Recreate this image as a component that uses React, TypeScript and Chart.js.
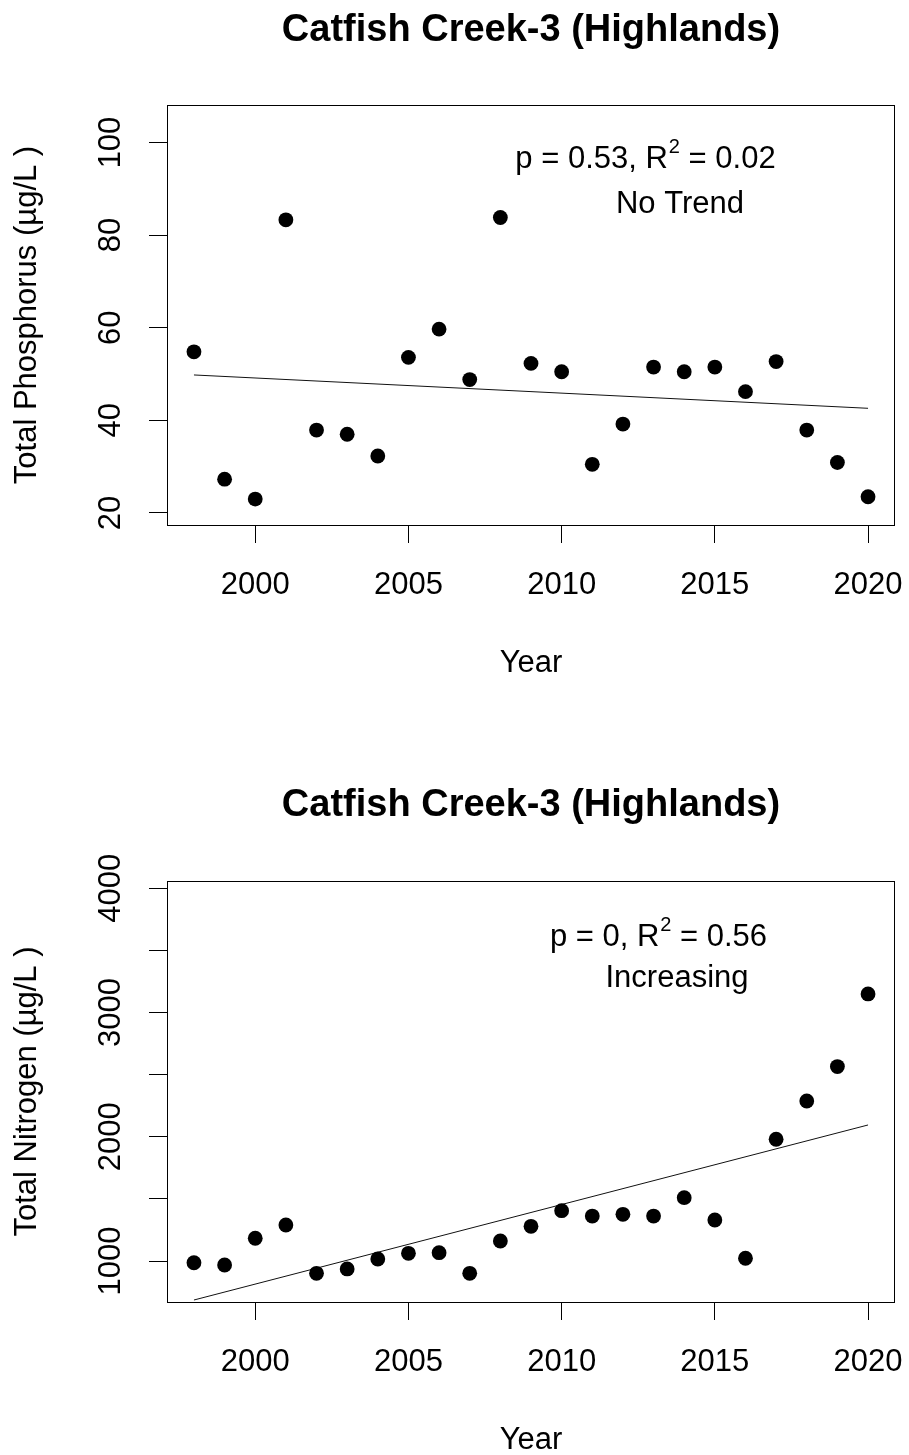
import React, { useEffect, useRef } from 'react';
import { Chart, registerables } from 'chart.js';

Chart.register(...registerables);

const FONT = '"Liberation Sans", Arial, Helvetica, sans-serif';

// ---- data ----
const years = [1998, 1999, 2000, 2001, 2002, 2003, 2004, 2005, 2006, 2007, 2008, 2009, 2010, 2011, 2012, 2013, 2014, 2015, 2016, 2017, 2018, 2019, 2020];
const phosphorus = [54.8, 27.3, 23.0, 83.3, 37.9, 37.0, 32.3, 53.6, 59.7, 48.8, 83.8, 52.3, 50.5, 30.5, 39.2, 51.5, 50.5, 51.5, 46.2, 52.7, 37.9, 30.9, 23.5];
const nitrogen = [986, 968, 1183, 1290, 901, 936, 1016, 1062, 1067, 901, 1161, 1279, 1405, 1362, 1376, 1362, 1510, 1330, 1022, 1980, 2288, 2565, 3150];
const trendYears = [1998, 2020];
const phosphorusTrend = [49.8, 42.6];
const nitrogenTrend = [686, 2095];
const yearTicks = [2000, 2005, 2010, 2015, 2020];
const phosphorusTicks = [20, 40, 60, 80, 100];
const phosphorusLabelTicks = [20, 40, 60, 80, 100];
const nitrogenTicks = [1000, 1500, 2000, 2500, 3000, 3500, 4000];
const nitrogenLabelTicks = [1000, 2000, 3000, 4000];

const TITLE = 'Catfish Creek-3 (Highlands)';

type Spec = {
  height: number;
  areaTop: number;
  areaBottom: number;
  values: number[];
  trend: number[];
  yMin: number;
  yMax: number;
  yTicks: number[];
  yLabelTicks: number[];
  yTitle: string;
  titleBase: number;
  stat: { pre: string; sup: string; post: string; cx: number; base: number };
  verdict: { text: string; cx: number; base: number };
};

const topSpec: Spec = {
  height: 776,
  areaTop: 105,
  areaBottom: 525,
  values: phosphorus,
  trend: phosphorusTrend,
  yMin: 17.4,
  yMax: 108.1,
  yTicks: phosphorusTicks,
  yLabelTicks: phosphorusLabelTicks,
  yTitle: 'Total Phosphorus (\u00b5g/L )',
  titleBase: 41,
  stat: { pre: 'p = 0.53, R', sup: '2', post: ' = 0.02', cx: 645, base: 168 },
  verdict: { text: 'No Trend', cx: 680, base: 213 },
};

const bottomSpec: Spec = {
  height: 679,
  areaTop: 105,
  areaBottom: 526,
  values: nitrogen,
  trend: nitrogenTrend,
  yMin: 670,
  yMax: 4059,
  yTicks: nitrogenTicks,
  yLabelTicks: nitrogenLabelTicks,
  yTitle: 'Total Nitrogen (\u00b5g/L )',
  titleBase: 40,
  stat: { pre: 'p = 0, R', sup: '2', post: ' = 0.56', cx: 658, base: 170 },
  verdict: { text: 'Increasing', cx: 677, base: 211 },
};

function makeTextPlugin(spec: Spec) {
  return {
    id: 'rtext',
    afterDraw(chart: any) {
      const ctx: CanvasRenderingContext2D = chart.ctx;
      const a = chart.chartArea;
      const sx = chart.scales.x;
      const sy = chart.scales.y;
      ctx.save();
      // plot box
      ctx.strokeStyle = '#000';
      ctx.lineWidth = 1;
      ctx.strokeRect(Math.round(a.left) + 0.5, Math.round(a.top) + 0.5, Math.round(a.right - a.left) - 1, Math.round(a.bottom - a.top));

      ctx.fillStyle = '#000';
      // title
      ctx.font = `bold 38px ${FONT}`;
      ctx.textAlign = 'center';
      ctx.textBaseline = 'alphabetic';
      ctx.fillText(TITLE, (a.left + a.right) / 2, spec.titleBase);

      // x tick labels
      ctx.font = `31px ${FONT}`;
      yearTicks.forEach((v) => {
        ctx.fillText(String(v), sx.getPixelForValue(v), a.bottom + 69);
      });
      // x title
      ctx.fillText('Year', (a.left + a.right) / 2, a.bottom + 147);

      // y tick labels (rotated)
      spec.yLabelTicks.forEach((v) => {
        ctx.save();
        ctx.translate(a.left - 47, sy.getPixelForValue(v));
        ctx.rotate(-Math.PI / 2);
        ctx.fillText(String(v), 0, 0);
        ctx.restore();
      });
      // y title
      ctx.save();
      ctx.translate(36, (a.top + a.bottom) / 2);
      ctx.rotate(-Math.PI / 2);
      ctx.fillText(spec.yTitle, 0, 0);
      ctx.restore();

      // stat annotation with superscript
      ctx.textAlign = 'left';
      const big = `31px ${FONT}`;
      const small = `20px ${FONT}`;
      ctx.font = big;
      const w1 = ctx.measureText(spec.stat.pre).width;
      const w3 = ctx.measureText(spec.stat.post).width;
      ctx.font = small;
      const w2 = ctx.measureText(spec.stat.sup).width;
      const x0 = spec.stat.cx - (w1 + w2 + w3) / 2;
      ctx.font = big;
      ctx.fillText(spec.stat.pre, x0, spec.stat.base);
      ctx.font = small;
      ctx.fillText(spec.stat.sup, x0 + w1 + 1, spec.stat.base - 15);
      ctx.font = big;
      ctx.fillText(spec.stat.post, x0 + w1 + w2 + 1, spec.stat.base);

      ctx.textAlign = 'center';
      ctx.fillText(spec.verdict.text, spec.verdict.cx, spec.verdict.base);
      ctx.restore();
    },
  };
}

function buildChart(canvas: HTMLCanvasElement, spec: Spec) {
  const gridOpts = {
    drawOnChartArea: false,
    drawTicks: true,
    tickLength: 18,
    color: '#000',
    lineWidth: 1,
  };
  return new Chart(canvas, {
    type: 'scatter',
    data: {
      datasets: [
        {
          type: 'scatter',
          data: years.map((x, i) => ({ x, y: spec.values[i] })),
          backgroundColor: '#000',
          borderColor: '#000',
          borderWidth: 0,
          pointRadius: 7.4,
          pointHoverRadius: 7.4,
        } as any,
        {
          type: 'line',
          data: trendYears.map((x, i) => ({ x, y: spec.trend[i] })),
          borderColor: '#111',
          borderWidth: 1,
          pointRadius: 0,
          fill: false,
          tension: 0,
        } as any,
      ],
    },
    options: {
      animation: false,
      responsive: false,
      events: [],
      layout: { padding: { left: 0, right: 14, top: spec.areaTop, bottom: 0 } },
      plugins: {
        legend: { display: false },
        tooltip: { enabled: false },
        title: { display: false },
      },
      scales: {
        x: {
          type: 'linear',
          min: 1997.12,
          max: 2020.88,
          afterBuildTicks: (s: any) => {
            s.ticks = yearTicks.map((v) => ({ value: v }));
          },
          afterFit: (s: any) => {
            s.height = spec.height - spec.areaBottom;
          },
          ticks: { display: false },
          grid: gridOpts,
          border: { display: false },
        },
        y: {
          type: 'linear',
          min: spec.yMin,
          max: spec.yMax,
          afterBuildTicks: (s: any) => {
            s.ticks = spec.yTicks.map((v) => ({ value: v }));
          },
          afterFit: (s: any) => {
            s.width = 167;
          },
          ticks: { display: false },
          grid: gridOpts,
          border: { display: false },
        },
      },
    } as any,
    plugins: [makeTextPlugin(spec)],
  });
}

function Panel({ spec }: { spec: Spec }) {
  const ref = useRef<HTMLCanvasElement | null>(null);
  useEffect(() => {
    if (!ref.current) return;
    const chart = buildChart(ref.current, spec);
    return () => chart.destroy();
  }, [spec]);
  return <canvas ref={ref} width={909} height={spec.height} style={{ display: 'block', width: 909, height: spec.height }} />;
}

export default function App() {
  return (
    <div style={{ position: 'absolute', left: 0, top: 0, width: 909, height: 1455, background: '#fff', overflow: 'hidden' }}>
      <Panel spec={topSpec} />
      <Panel spec={bottomSpec} />
    </div>
  );
}
